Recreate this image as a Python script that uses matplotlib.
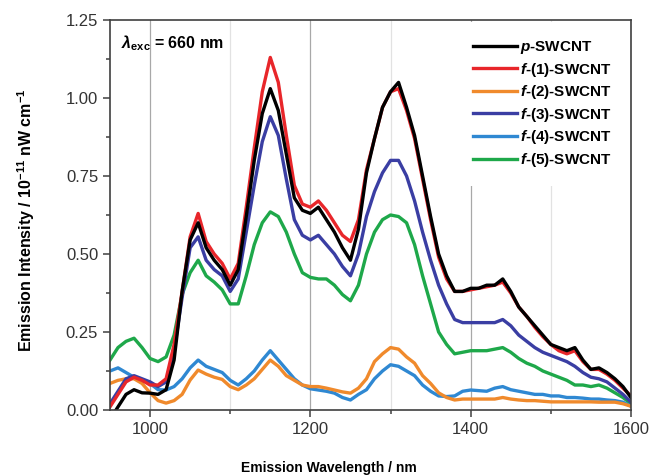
import numpy as np
import matplotlib
matplotlib.use("Agg")
import matplotlib.pyplot as plt
from matplotlib.ticker import MultipleLocator

plt.rcParams['font.family'] = ['Liberation Sans', 'DejaVu Sans']
plt.rcParams['mathtext.fontset'] = 'custom'
plt.rcParams['mathtext.rm'] = 'Liberation Sans:bold'
plt.rcParams['mathtext.it'] = 'Liberation Sans:italic:bold'
plt.rcParams['mathtext.bf'] = 'Liberation Sans:bold'

wavelength = list(range(950, 1601, 10))

p_swcnt = [-0.03, 0.01, 0.05, 0.065, 0.055, 0.054, 0.05, 0.065, 0.16, 0.38,
           0.545, 0.60, 0.52, 0.48, 0.45, 0.40, 0.45, 0.62, 0.80, 0.95,
           1.03, 0.96, 0.82, 0.68, 0.64, 0.63, 0.65, 0.61, 0.57, 0.52,
           0.48, 0.58, 0.76, 0.87, 0.97, 1.02, 1.05, 0.97, 0.88, 0.75,
           0.62, 0.50, 0.43, 0.38, 0.38, 0.39, 0.39, 0.40, 0.40, 0.42,
           0.38, 0.33, 0.30, 0.27, 0.24, 0.21, 0.20, 0.19, 0.20, 0.16,
           0.13, 0.135, 0.12, 0.10, 0.075, 0.04]

f1_swcnt = [0.01, 0.05, 0.09, 0.105, 0.095, 0.08, 0.08, 0.10, 0.21, 0.38,
            0.555, 0.63, 0.54, 0.50, 0.47, 0.42, 0.47, 0.65, 0.84, 1.02,
            1.13, 1.05, 0.88, 0.72, 0.66, 0.65, 0.67, 0.64, 0.60, 0.56,
            0.54, 0.61, 0.77, 0.87, 0.97, 1.02, 1.03, 0.96, 0.87, 0.74,
            0.61, 0.49, 0.42, 0.38, 0.38, 0.385, 0.39, 0.395, 0.40, 0.41,
            0.375, 0.33, 0.30, 0.265, 0.235, 0.21, 0.19, 0.18, 0.19, 0.155,
            0.13, 0.13, 0.115, 0.095, 0.07, 0.045]

f2_swcnt = [0.085, 0.095, 0.10, 0.10, 0.085, 0.055, 0.03, 0.022, 0.03, 0.05,
            0.096, 0.128, 0.115, 0.105, 0.098, 0.075, 0.065, 0.08, 0.10, 0.13,
            0.16, 0.14, 0.11, 0.095, 0.08, 0.075, 0.075, 0.07, 0.064, 0.058,
            0.054, 0.07, 0.10, 0.155, 0.18, 0.20, 0.195, 0.17, 0.15, 0.11,
            0.085, 0.055, 0.04, 0.032, 0.035, 0.035, 0.035, 0.035, 0.035, 0.04,
            0.035, 0.032, 0.03, 0.03, 0.028, 0.026, 0.026, 0.026, 0.026, 0.026,
            0.026, 0.025, 0.025, 0.025, 0.02, 0.012]

f3_swcnt = [0.02, 0.06, 0.10, 0.11, 0.10, 0.09, 0.075, 0.09, 0.19, 0.36,
            0.52, 0.555, 0.48, 0.45, 0.43, 0.38, 0.42, 0.57, 0.72, 0.86,
            0.94, 0.88, 0.74, 0.61, 0.56, 0.545, 0.56, 0.53, 0.50, 0.46,
            0.43, 0.50, 0.62, 0.70, 0.76, 0.80, 0.80, 0.75, 0.67, 0.57,
            0.48, 0.40, 0.34, 0.29, 0.28, 0.28, 0.28, 0.28, 0.28, 0.29,
            0.27, 0.24, 0.22, 0.20, 0.185, 0.175, 0.165, 0.155, 0.14, 0.12,
            0.105, 0.10, 0.09, 0.07, 0.05, 0.025]

f4_swcnt = [0.125, 0.135, 0.12, 0.105, 0.095, 0.085, 0.065, 0.064, 0.075, 0.10,
            0.135, 0.16, 0.14, 0.13, 0.12, 0.095, 0.08, 0.10, 0.125, 0.16,
            0.19, 0.16, 0.13, 0.10, 0.08, 0.068, 0.064, 0.06, 0.054, 0.04,
            0.032, 0.05, 0.065, 0.10, 0.125, 0.145, 0.14, 0.125, 0.11, 0.08,
            0.06, 0.045, 0.043, 0.045, 0.06, 0.064, 0.062, 0.06, 0.07, 0.075,
            0.065, 0.06, 0.055, 0.05, 0.05, 0.045, 0.045, 0.04, 0.04, 0.038,
            0.035, 0.035, 0.032, 0.03, 0.025, 0.012]

f5_swcnt = [0.16, 0.20, 0.22, 0.23, 0.20, 0.165, 0.155, 0.17, 0.24, 0.37,
            0.44, 0.48, 0.43, 0.41, 0.385, 0.34, 0.34, 0.43, 0.53, 0.60,
            0.635, 0.62, 0.57, 0.50, 0.44, 0.425, 0.42, 0.42, 0.40, 0.37,
            0.35, 0.40, 0.50, 0.57, 0.61, 0.625, 0.62, 0.60, 0.53, 0.43,
            0.34, 0.25, 0.21, 0.18, 0.185, 0.19, 0.19, 0.19, 0.195, 0.20,
            0.185, 0.165, 0.15, 0.14, 0.125, 0.115, 0.105, 0.095, 0.08, 0.08,
            0.075, 0.08, 0.07, 0.055, 0.04, 0.02]

labels = [r'$\it{p}$-SWCNT', r'$\it{f}$-(1)-SWCNT', r'$\it{f}$-(2)-SWCNT',
          r'$\it{f}$-(3)-SWCNT', r'$\it{f}$-(4)-SWCNT', r'$\it{f}$-(5)-SWCNT']
series = [p_swcnt, f1_swcnt, f2_swcnt, f3_swcnt, f4_swcnt, f5_swcnt]
colors = ['#000000', '#e8262a', '#f08a2c', '#3a3ea3', '#2f88d2', '#1ea84a']

fig = plt.figure(figsize=(6.57, 4.76), dpi=100)
ax = fig.add_axes([0.1674, 0.1387, 0.7930, 0.8193])

ax.set_xlim(950, 1600)
ax.set_ylim(0, 1.25)

ax.xaxis.set_major_locator(MultipleLocator(200))
ax.xaxis.set_minor_locator(MultipleLocator(100))
ax.yaxis.set_major_locator(MultipleLocator(0.25))
ax.yaxis.set_minor_locator(MultipleLocator(0.125))
ax.grid(True, axis='x', which='major', color='#a8a8a8', lw=0.9)
ax.grid(True, axis='x', which='minor', color='#e2e2e2', lw=0.9)
ax.set_axisbelow(True)

draw_order = [5, 4, 2, 3, 1, 0]
handles = {}
for i in draw_order:
    h, = ax.plot(wavelength, series[i], color=colors[i], lw=2.4, label=labels[i],
                 solid_joinstyle='round')
    handles[i] = h

leg = ax.legend([handles[i] for i in range(6)], labels, loc='upper right',
                bbox_to_anchor=(1.0, 1.0), fontsize=11, frameon=True,
                facecolor='white', edgecolor='none', framealpha=1.0,
                handlelength=2.9, handletextpad=0.2, labelspacing=0.3,
                borderpad=1.1, borderaxespad=0.15)
leg.get_frame().set_boxstyle('square', pad=0.0)
for t in leg.get_texts():
    t.set_fontweight('bold')

ax.text(0.022, 0.94, r'$\lambda_{\mathrm{exc}}$ = 660 nm', transform=ax.transAxes,
        fontsize=11.5, fontweight='bold', ha='left', va='center')

for s in ['top', 'right', 'left', 'bottom']:
    ax.spines[s].set_color('#404040')
    ax.spines[s].set_linewidth(1.2)
ax.tick_params(axis='both', which='major', direction='out', length=5, width=1.1,
               labelsize=12, colors='#404040', labelcolor='#333333')
ax.tick_params(axis='both', which='minor', direction='out', length=3, width=1.1,
               colors='#404040')
ax.set_xticks([1000, 1200, 1400, 1600])

ax.set_xlabel('Emission Wavelength / nm', fontsize=10, fontweight='bold')
ax.xaxis.set_label_coords(0.42, -0.132)
ax.set_ylabel(r'Emission Intensity / 10$^{\mathbf{-11}}$ nW cm$^{\mathbf{-1}}$',
              fontsize=11.5, fontweight='bold')
ax.yaxis.set_label_coords(-0.14, 0.487)

fig.savefig('out.png', dpi=100)
